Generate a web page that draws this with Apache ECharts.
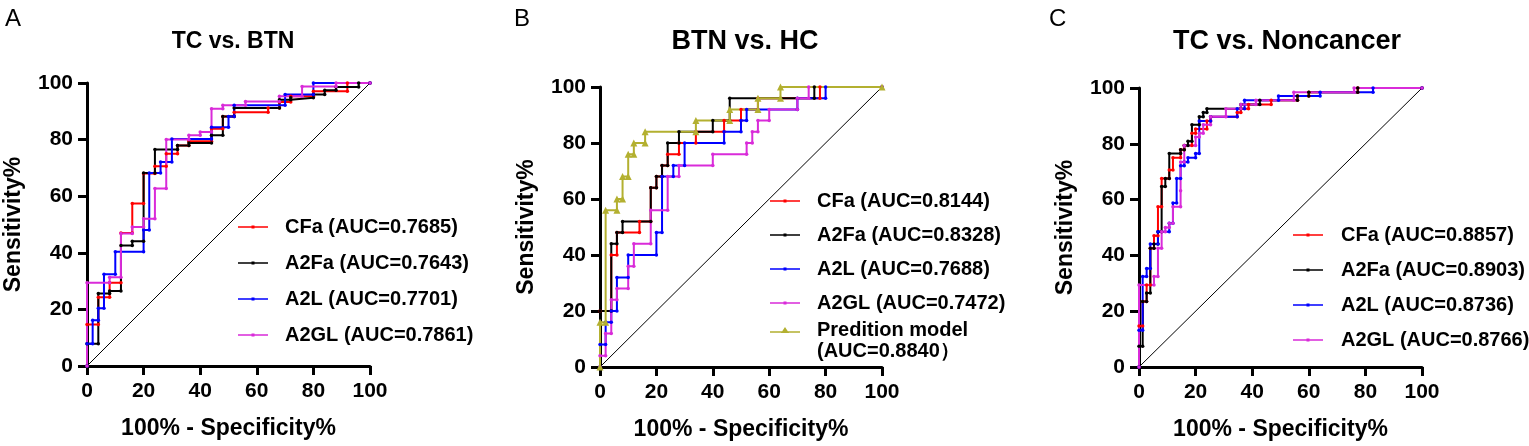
<!DOCTYPE html>
<html>
<head>
<meta charset="utf-8">
<script src="https://cdn.jsdelivr.net/npm/echarts@6/dist/echarts.min.js"></script>
<style>
  html, body { margin: 0; padding: 0; background: #fff; }
  #main { width: 1529px; height: 446px; }
</style>
</head>
<body>
<div id="main"></div>
<script>
// panel titles and letters
var panelTitles = ['TC vs. BTN', 'BTN vs. HC', 'TC vs. Noncancer']
var panelLetters = ['A', 'B', 'C']
var axisTicks = [0, 20, 40, 60, 80, 100]
var xName = '100% - Specificity%'
var yName = 'Sensitivity%'

// legend names per panel
var namesA = ['CFa (AUC=0.7685)', 'A2Fa (AUC=0.7643)', 'A2L (AUC=0.7701)', 'A2GL (AUC=0.7861)']
var namesB = ['CFa (AUC=0.8144)', 'A2Fa (AUC=0.8328)', 'A2L (AUC=0.7688)', 'A2GL (AUC=0.7472)', 'Predition model']
var modelAuc = '(AUC=0.8840）'
var namesC = ['CFa (AUC=0.8857)', 'A2Fa (AUC=0.8903)', 'A2L (AUC=0.8736)', 'A2GL (AUC=0.8766)']

// ROC points [100% - specificity, sensitivity]
// A: TC vs. BTN
var A_CFa = [[0,0],[0,14.7],[4,14.7],[4,24.3],[8,24.3],[8,29.4],[12,29.4],[12,47],[16,47],[16,57.4],[20,57.4],[20,68],[24,68],[24,70.6],[28,70.6],[28,75],[32,75],[32,77.9],[36,77.9],[36,79.4],[44,79.4],[44,83.8],[48,83.8],[48,88.2],[52,88.2],[52,89.7],[64,89.7],[64,91.2],[68,91.2],[68,93.3],[72,93.3],[72,95.3],[80,95.3],[80,97.1],[92,97.1],[92,100],[100,100]]
var A_A2Fa = [[0,0],[0,7.9],[4,7.9],[4,25.6],[8,25.6],[8,26.5],[12,26.5],[12,42.6],[16,42.6],[16,44.1],[20,44.1],[20,68.2],[24,68.2],[24,76.5],[32,76.5],[32,77.9],[36,77.9],[36,78.8],[44,78.8],[44,81.5],[48,81.5],[48,88.2],[52,88.2],[52,91.2],[68,91.2],[68,94.1],[72,94.1],[72,94.8],[80,94.8],[80,95.9],[84,95.9],[84,97.4],[88,97.4],[88,98.6],[96,98.6],[96,100],[100,100]]
var A_A2L = [[0,0],[0,7.9],[2,7.9],[2,16.2],[4,16.2],[4,20.4],[6,20.4],[6,32.4],[10,32.4],[10,40.4],[20,40.4],[20,48.1],[22,48.1],[22,68.2],[26,68.2],[26,72.1],[30,72.1],[30,80.2],[44,80.2],[44,84.4],[50,84.4],[50,88.2],[52,88.2],[52,92.1],[70,92.1],[70,95.9],[80,95.9],[80,100],[100,100]]
var A_A2GL = [[0,0],[0,29.4],[8,29.4],[8,31.4],[12,31.4],[12,46.8],[16,46.8],[16,49.1],[20,49.1],[20,52],[24,52],[24,62.7],[28,62.7],[28,80],[36,80],[36,81.5],[40,81.5],[40,82.7],[44,82.7],[44,90.9],[48,90.9],[48,92.1],[56,92.1],[56,93.5],[68,93.5],[68,95.3],[76,95.3],[76,98.8],[88,98.8],[88,100],[100,100]]

// B: BTN vs. HC
var B_CFa = [[0,0],[0,20],[4,20],[4,40],[6,40],[6,48],[14,48],[14,52],[18,52],[18,64],[20,64],[20,68],[22,68],[22,72],[24,72],[24,76],[28,76],[28,80],[34,80],[34,84],[44,84],[44,88],[50,88],[50,92],[56,92],[56,96],[78,96],[78,100],[100,100]]
var B_A2Fa = [[0,0],[0,20],[4,20],[4,44],[6,44],[6,48],[8,48],[8,52],[18,52],[18,64],[20,64],[20,68],[22,68],[22,72],[24,72],[24,80],[28,80],[28,84],[40,84],[40,88],[46,88],[46,96],[76,96],[76,100],[100,100]]
var B_A2L = [[0,0],[0,8],[2,8],[2,16],[4,16],[4,20],[6,20],[6,32],[10,32],[10,40],[20,40],[20,48],[22,48],[22,68],[26,68],[26,72],[30,72],[30,80],[44,80],[44,84],[50,84],[50,88],[52,88],[52,92],[70,92],[70,96],[80,96],[80,100],[100,100]]
var B_A2GL = [[0,0],[0,4],[2,4],[2,12],[4,12],[4,24],[6,24],[6,28],[10,28],[10,36],[12,36],[12,44],[18,44],[18,56],[24,56],[24,68],[28,68],[28,72],[40,72],[40,76],[52,76],[52,80],[54,80],[54,84],[56,84],[56,88],[60,88],[60,92],[70,92],[70,96],[74,96],[74,100],[100,100]]
var B_Model = [[0,0],[0,16],[2,16],[2,56],[6,56],[6,60],[8,60],[8,68],[10,68],[10,76],[12,76],[12,80],[16,80],[16,84],[34,84],[34,88],[46,88],[46,92],[56,92],[56,96],[64,96],[64,100],[100,100]]

// C: TC vs. Noncancer
var C_CFa = [[0,0],[0,14.7],[1.3,14.7],[1.3,23.5],[2.7,23.5],[2.7,29.4],[4,29.4],[4,42.6],[5.3,42.6],[5.3,47],[6.7,47],[6.7,57.4],[8,57.4],[8,67.6],[10.7,67.6],[10.7,70.6],[12,70.6],[12,75],[14.7,75],[14.7,77.9],[16,77.9],[16,79.4],[18.7,79.4],[18.7,83.8],[20,83.8],[20,85.3],[24,85.3],[24,88.2],[25.3,88.2],[25.3,89.7],[34.7,89.7],[34.7,91.2],[36,91.2],[36,92.6],[38.7,92.6],[38.7,94.1],[46.7,94.1],[46.7,95.6],[56,95.6],[56,97.1],[60,97.1],[60,98.5],[77.3,98.5],[77.3,100],[100,100]]
var C_A2Fa = [[0,0],[0,7.4],[1.3,7.4],[1.3,23.5],[2.7,23.5],[2.7,26.5],[4,26.5],[4,42.6],[5.3,42.6],[5.3,44.1],[6.7,44.1],[6.7,48.5],[8,48.5],[8,64.7],[9.3,64.7],[9.3,67.6],[10.7,67.6],[10.7,76.5],[14.7,76.5],[14.7,77.9],[16,77.9],[16,79.4],[17.3,79.4],[17.3,80.9],[18.7,80.9],[18.7,86.8],[21.3,86.8],[21.3,89.7],[22.7,89.7],[22.7,91.2],[24,91.2],[24,92.6],[36,92.6],[36,94.1],[42.7,94.1],[42.7,95.6],[56,95.6],[56,97.1],[60,97.1],[60,98.5],[77.3,98.5],[77.3,100],[100,100]]
var C_A2L = [[0,0],[0,13.2],[1.3,13.2],[1.3,32.4],[2.7,32.4],[2.7,35.3],[4,35.3],[4,44.1],[6.7,44.1],[6.7,48.5],[10.7,48.5],[10.7,51.5],[12,51.5],[12,58.8],[13.3,58.8],[13.3,67.6],[14.7,67.6],[14.7,72.1],[16,72.1],[16,73.5],[17.3,73.5],[17.3,75],[20,75],[20,76.5],[21.3,76.5],[21.3,88.2],[25.3,88.2],[25.3,89.7],[34.7,89.7],[34.7,92.6],[37.3,92.6],[37.3,95.6],[49.3,95.6],[49.3,97.1],[64,97.1],[64,98.5],[82.7,98.5],[82.7,100],[100,100]]
var C_A2GL = [[0,0],[0,29.4],[5.3,29.4],[5.3,32.4],[6.7,32.4],[6.7,42.6],[8,42.6],[8,48.5],[9.3,48.5],[9.3,50],[10.7,50],[10.7,51.5],[12,51.5],[12,57.4],[14.7,57.4],[14.7,63.2],[14.7,73.5],[16,73.5],[16,79.4],[20,79.4],[20,82.4],[21.3,82.4],[21.3,83.8],[22.7,83.8],[22.7,86.8],[25.3,86.8],[25.3,89.7],[30.7,89.7],[30.7,92.6],[36,92.6],[36,94.1],[41.3,94.1],[41.3,95.6],[54.7,95.6],[54.7,98.5],[76,98.5],[76,100],[100,100]]

var diagonal = [[0,0],[100,100]]

var colors = ['#ff0000', '#000000', '#0000ff', '#d92bd9', '#b3b030']
var FONT = 'Liberation Sans, Arial, sans-serif'
// legend icons: short line with a small marker in the middle
var dotIcon = 'path://M0,3.3H30V4.7H0Z M13.5,2.5H16.5V5.5H13.5Z'
var triIcon = 'path://M0,6.3H30V7.7H0Z M15,2L19,8H11Z'

var chart = echarts.init(document.getElementById('main'))

var grids = [
    { left: 87, top: 83, width: 283, height: 283 },
    { left: 600, top: 87, width: 282, height: 282 },
    { left: 1139, top: 88, width: 283, height: 282 }
]

function makeX(i) {
    return {
        type: 'value', gridIndex: i, min: 0, max: 100, interval: 20,
        name: xName, nameLocation: 'middle', nameGap: 51,
        nameTextStyle: { fontSize: 23, fontWeight: 'bold', color: '#000', fontFamily: FONT },
        axisLine: { lineStyle: { color: '#000', width: 3 } },
        axisTick: { length: 9, lineStyle: { width: 3, color: '#000' } },
        axisLabel: { margin: 15, fontSize: 21, fontWeight: 'bold', color: '#000', fontFamily: FONT,
            formatter: function (v) { return axisTicks.indexOf(v) >= 0 ? String(v) : '' } },
        splitLine: { show: false }
    }
}
function makeY(i) {
    return {
        type: 'value', gridIndex: i, min: 0, max: 100, interval: 20,
        name: yName, nameLocation: 'middle', nameGap: 62,
        nameTextStyle: { fontSize: 23, fontWeight: 'bold', color: '#000', fontFamily: FONT },
        axisLine: { show: true, lineStyle: { color: '#000', width: 3 } },
        axisTick: { show: true, length: 9, lineStyle: { width: 3, color: '#000' } },
        axisLabel: { margin: 14, fontSize: 21, fontWeight: 'bold', color: '#000', fontFamily: FONT },
        splitLine: { show: false }
    }
}

function roc(name, data, idx, color, symbol, size) {
    return {
        name: name, type: 'line', data: data,
        xAxisIndex: idx, yAxisIndex: idx,
        symbol: symbol || 'circle', symbolSize: size || 3.5,
        showSymbol: true, animation: false,
        lineStyle: { color: color, width: 2 },
        itemStyle: { color: color },
        z: 3
    }
}
function diag(idx) {
    return {
        type: 'line', data: diagonal, xAxisIndex: idx, yAxisIndex: idx,
        symbol: 'none', animation: false, silent: true,
        lineStyle: { color: '#000', width: 1 }, z: 2
    }
}

var series = [diag(0), diag(1), diag(2)]
var dataA = [A_CFa, A_A2Fa, A_A2L, A_A2GL]
var dataB = [B_CFa, B_A2Fa, B_A2L, B_A2GL, B_Model]
var dataC = [C_CFa, C_A2Fa, C_A2L, C_A2GL]
dataA.forEach(function (d, k) { series.push(roc(namesA[k], d, 0, colors[k])) })
dataB.forEach(function (d, k) {
    if (k === 4) series.push(roc(namesB[k], d, 1, colors[k], 'triangle', 7))
    else series.push(roc(namesB[k], d, 1, colors[k]))
})
dataC.forEach(function (d, k) { series.push(roc(namesC[k], d, 2, colors[k])) })

function legend(names, left, top, gap, textPad, icon) {
    return {
        data: names.map(function (n) { return { name: n, icon: icon || dotIcon } }),
        orient: 'vertical', left: left, top: top, padding: 0,
        itemWidth: 30, itemHeight: 8, itemGap: gap,
        textStyle: { fontSize: 20, fontWeight: 'bold', color: '#000', fontFamily: FONT,
            lineHeight: 22, padding: [0, 0, 0, textPad] },
        selectedMode: false
    }
}

var titles = []
var titleX = [228, 740, 1282]
var titleSize = [23, 27, 27]
panelTitles.forEach(function (t, i) {
    titles.push({ text: t, left: titleX[i], top: 39 - titleSize[i] * 0.6, textAlign: 'center',
        textStyle: { fontSize: titleSize[i], fontWeight: 'bold', color: '#000', fontFamily: FONT } })
})
var letterX = [0, 509, 1044]
panelLetters.forEach(function (t, i) {
    titles.push({ text: t, left: letterX[i], top: 2,
        textStyle: { fontSize: 24, fontWeight: 'normal', color: '#000', fontFamily: FONT } })
})

chart.setOption({
    backgroundColor: '#fff',
    animation: false,
    title: titles,
    grid: grids,
    xAxis: [makeX(0), makeX(1), makeX(2)],
    yAxis: [makeY(0), makeY(1), makeY(2)],
    legend: [
        legend(namesA, 238, 216, 14, 12),
        legend(namesB.slice(0, 4), 770, 190, 12, 12),
        legend(namesB.slice(4), 770, 319, 12, 12, triIcon),
        legend(namesC, 1293, 224, 13, 13)
    ],
    graphic: [{
        type: 'text', left: 817, top: 341,
        style: { text: modelAuc, fontSize: 20, fontWeight: 'bold', fill: '#000', fontFamily: FONT }
    }],
    series: series
})
</script>
</body>
</html>
